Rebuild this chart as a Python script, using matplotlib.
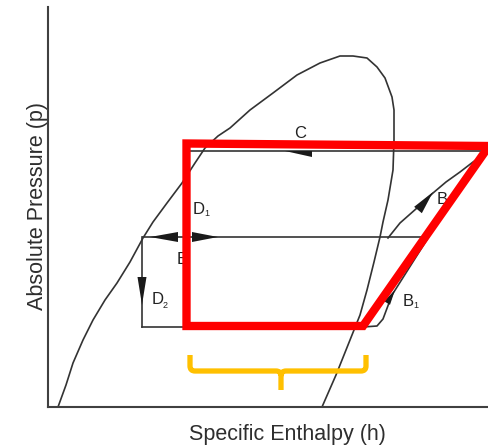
import numpy as np
import matplotlib
matplotlib.use("Agg")
import matplotlib.pyplot as plt
from matplotlib.path import Path
from matplotlib.patches import PathPatch, Polygon

plt.rcParams['font.family'] = ['Liberation Sans', 'DejaVu Sans']

# ---- saturation dome (specific enthalpy h, pressure p), schematic units ----
dome_h = [10, 18, 25, 35, 45, 57, 69, 82, 95, 105, 119, 134, 147, 157, 170, 182, 192, 202,
          225, 249, 272, 292, 305, 319, 329, 337, 344, 346, 346, 345, 340, 335, 332, 326,
          319, 312, 302, 288, 274]
dome_p = [0, 22, 44, 67, 87, 107, 124, 145, 169, 185, 204, 224, 244, 259, 271, 279, 288, 297,
          314, 332, 344, 351, 351, 349, 340, 329, 310, 297, 267, 237, 207, 185, 170, 145,
          117, 92, 67, 32, 0]

# ---- process lines ----
p_high = 256      # condensation line (C)
p_mid = 170       # intermediate line (E)
p_low = 80        # evaporation line
h_C = [139, 439]
h_mid = [95, 380]
h_low = [94, 315]
h_D1 = 136
h_D2 = 94

B_h = [340, 352, 369, 385, 398, 412, 425, 439]
B_p = [169, 184, 199, 214, 225, 235, 245, 255]
B1_h = [315, 329, 335, 344, 380]
B1_p = [80, 81, 88, 112, 169]

# ---- red overlay polygon ----
red_h = [138.5, 441, 315, 138.5]
red_p = [263.5, 261, 81, 81]

# ---- yellow bracket ----
br_left, br_right, br_mid = 142, 318, 233
br_top, br_bar, br_tip = 52, 36, 17

fig = plt.figure(figsize=(4.89, 4.47), dpi=100)
ax = fig.add_axes([48/489, 40/447, 441/489, 400/447])
ax.set_xlim(0, 441)
ax.set_ylim(0, 400)
for s in ['top', 'right']:
    ax.spines[s].set_visible(False)
for s in ['left', 'bottom']:
    ax.spines[s].set_color('#404040')
    ax.spines[s].set_linewidth(1.5)
ax.set_xticks([])
ax.set_yticks([])

lc = '#333333'
lw = 1.2
ax.plot(dome_h, dome_p, color=lc, lw=lw, solid_joinstyle='round', zorder=2)
ax.plot(h_C, [p_high, p_high], color=lc, lw=lw, zorder=2)
ax.plot(h_mid, [p_mid, p_mid], color=lc, lw=lw, zorder=2)
ax.plot(h_low, [p_low, p_low], color=lc, lw=lw, zorder=2)
ax.plot([h_D1, h_D1], [p_high, p_mid], color=lc, lw=lw, zorder=2)
ax.plot([h_D2, h_D2], [p_mid, p_low], color=lc, lw=lw, zorder=2)
ax.plot(B_h, B_p, color=lc, lw=lw, zorder=2)
ax.plot(B1_h, B1_p, color=lc, lw=lw, zorder=2)


def arrowhead(tip, base, half_w, color='#1a1a1a'):
    tip = np.array(tip, float)
    base = np.array(base, float)
    d = tip - base
    n = np.array([-d[1], d[0]]) / np.hypot(*d)
    pts = [tip, base + n * half_w, base - n * half_w]
    ax.add_patch(Polygon(pts, closed=True, color=color, lw=0, zorder=3))


# arrows on the middle line (double arrow)
arrowhead((102, p_mid), (130, p_mid), 5)
arrowhead((170, p_mid), (144, p_mid), 5)
# D2 arrow down
arrowhead((h_D2, 102), (h_D2, 130), 4.5)
# B arrow
arrowhead((385, 215), (370, 197), 5)
# B1 arrow (mostly hidden)
arrowhead((347, 117), (339, 104), 3.5)
# C half arrow
ax.add_patch(Polygon([(237, p_high + 0.5), (264, p_high + 0.5), (264, p_high - 6)],
                     closed=True, color='#1a1a1a', lw=0, zorder=3))

# labels
tc = '#222222'
fs = 12
ax.text(252, 274, 'C', fontsize=fs, color=tc, ha='center', va='center', zorder=4)
ax.text(145, 198, 'D', fontsize=fs, color=tc, ha='left', va='center', zorder=4)
ax.text(156.5, 194, '1', fontsize=6.5, color=tc, ha='left', va='center', zorder=4)
ax.text(129, 148, 'E', fontsize=fs, color=tc, ha='left', va='center', zorder=2)
ax.text(104, 107, 'D', fontsize=fs, color=tc, ha='left', va='center', zorder=4)
ax.text(115, 102, '2', fontsize=6.5, color=tc, ha='left', va='center', zorder=4)
ax.text(389, 207, 'B', fontsize=fs, color=tc, ha='left', va='center', zorder=4)
ax.text(355, 106, 'B', fontsize=fs, color=tc, ha='left', va='center', zorder=4)
ax.text(365, 102, '1', fontsize=6.5, color=tc, ha='left', va='center', zorder=4)

# red overlay
ax.add_patch(Polygon(list(zip(red_h, red_p)), closed=True, fill=False, edgecolor='#ff0000',
                     lw=6.0, joinstyle='miter', clip_on=False, zorder=5))

# yellow bracket
r = 5
verts = [(br_left, br_top), (br_left, br_bar + r), (br_left, br_bar), (br_left + r, br_bar),
         (br_mid - r, br_bar), (br_mid, br_bar), (br_mid, br_bar - r), (br_mid, br_tip),
         (br_right, br_top), (br_right, br_bar + r), (br_right, br_bar), (br_right - r, br_bar),
         (br_mid + r, br_bar), (br_mid, br_bar), (br_mid, br_bar - r)]
codes = [Path.MOVETO, Path.LINETO, Path.CURVE3, Path.CURVE3,
         Path.LINETO, Path.CURVE3, Path.CURVE3, Path.LINETO,
         Path.MOVETO, Path.LINETO, Path.CURVE3, Path.CURVE3,
         Path.LINETO, Path.CURVE3, Path.CURVE3]
ax.add_patch(PathPatch(Path(verts, codes), fill=False, edgecolor='#ffc000', lw=3.8,
                       capstyle='butt', joinstyle='round', clip_on=False, zorder=5))

# axis titles
ax.text(239.5, -33, 'Specific Enthalpy (h)', fontsize=15.5, color='#2e2e2e',
        ha='center', va='baseline', clip_on=False)
ax.text(-5, 201, 'Absolute Pressure (p)', fontsize=15.5, color='#2e2e2e', rotation=90,
        rotation_mode='anchor', ha='center', va='baseline', clip_on=False)

fig.savefig('out.png', dpi=100)
